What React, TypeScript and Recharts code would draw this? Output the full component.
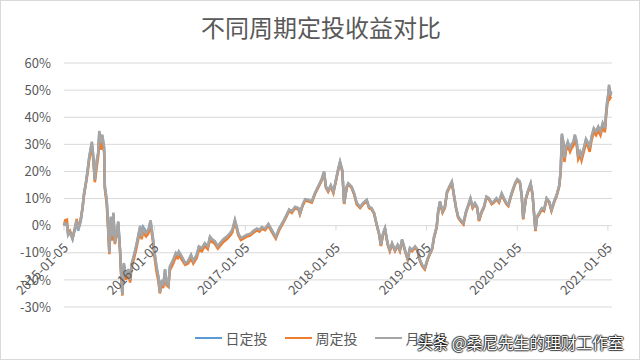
import React from "react";
import { LineChart, Line, XAxis, YAxis, CartesianGrid } from "recharts";

// Trading-day index since 2015-01-05
const tradingDay = [
  0,3,8,11,16,23,30,34,38,45,
  50,54,59,63,68,75,79,83,88,92,
  95,99,103,108,110,115,118,122,126,129,
  133,137,142,146,151,153,157,161,167,173,
  178,182,188,194,200,205,209,213,221,227,
  233,239,243,249,254,258,263,267,272,276,
  281,285,294,301,306,309,317,326,334,342,
  348,357,363,371,379,387,393,399,406,414,
  420,429,438,447,453,460,465,469,476,483,
  492,501,509,519,526,532,541,550,559,570,
  579,590,599,606,613,622,631,635,642,649,
  657,667,675,684,693,700,705,711,718,725,
  732,738,743,749,754,761,765,774,781,788,
  797,805,815,821,828,835,841,848,853,859,
  864,871,877,883,891,898,904,910,918,925,
  931,937,945,952,958,964,971,979,985,991,
  996,1003,1007,1012,1019,1025,1031,1039,1044,1049,
  1055,1061,1067,1075,1082,1088,1094,1100,1106,1112,
  1117,1124,1130,1137,1144,1151,1157,1164,1171,1178,
  1184,1191,1196,1202,1207,1214,1220,1227,1232,1236,
  1243,1249,1256,1261,1265,1269,1273,1279,1286,1292,
  1299,1306,1312,1319,1326,1333,1337,1340,1344,1347,
  1351,1356,1362,1366,1371,1375,1380,1384,1389,1393,
  1399,1405,1411,1415,1420,1426,1432,1438,1444,1450,
  1456,1459,1462,1466,1467,1470,1473,
];

// 日定投 (%)
const dailyReturn = [
  0,0.8,0.2,-3,-2,-4.8,-0.8,1.6,-1.8,1.6,
  6.7,11.7,15.7,19.6,25.2,30.6,25,16.6,23.5,26.6,
  34.5,30,33.2,28.6,14.1,9.2,1.6,-9.6,3,-4.3,
  4.4,-6,-2.8,1.2,-9.3,-15.3,-25.2,-14.1,-19,-16.3,
  -20.2,-14.3,-11.3,-7.9,-3.5,-0.5,-3,-0.5,-2.2,-1.8,
  1.6,-4.3,-9.3,-15.3,-19,-24.5,-20.3,-22.2,-16.3,-21.2,
  -22.2,-15.3,-12.8,-10.3,-11,-9.8,-11.6,-14,-13.3,-11,
  -13.3,-11,-7.9,-8.5,-6.7,-7.9,-4.3,-5.3,-6,-7.9,
  -6.7,-5.3,-4.3,-3,-1.8,1.9,-0.6,-3,-4.8,-4.3,
  -3.6,-3.3,-2.3,-1.3,-1.8,-0.8,-1.3,0.4,-1.8,-4.5,
  -1.3,1.3,3.7,5.7,5,6.7,6.2,4.4,7.4,9.5,
  9.3,8.7,11.7,14.2,16.7,19.7,14.2,12.7,14.7,12.3,
  16.7,20.7,23.4,20.3,8.1,14.2,15.4,14.2,11.7,8.1,
  6.7,8.1,9.3,6.7,6.2,4.4,0.7,-3,-7.3,-3,
  -1.1,-6.7,-9.2,-6.7,-9.2,-7.3,-9.2,-5.3,-9.2,-12.3,
  -8.5,-9.2,-7.9,-9.2,-12.8,-14.7,-15.9,-12.3,-10.3,-8.5,
  -4.3,-0.6,5,8.7,5,6.7,12.4,14.7,16,11.7,
  6.7,3.1,1.9,0.7,5,7.4,9.9,6.7,8.1,6.7,
  1.9,5,6.7,10.5,9.9,8.1,8.7,9.9,8.7,11.7,
  9.9,8.1,7.4,10.5,12.7,15.4,16.9,16,11.1,2.5,
  9.9,12.7,15.4,11.7,4.7,-1.8,3.1,4.4,6.2,5.6,
  9.9,8.7,5.6,8.7,11.1,14.7,20.3,33.5,30.6,24.5,
  28.6,30.6,28.3,29.6,30.6,33.2,30.6,25.5,27,25.2,
  28.3,31.6,30.1,28.3,32.6,35.6,34.4,36.2,34.4,37.5,
  35.6,41.2,45.5,49.2,51.6,48,49.2,
];

// 周定投 (%)
const weeklyReturn = [
  0,2,2.2,-2.5,-2,-4.5,-0.5,2.5,-1,2.5,
  6.5,11.5,15.5,19,24.5,29.5,24,16,21.5,25.5,
  33,28,31,27,13.5,8,0.5,-10.5,1.5,-5.5,
  3,-6.8,-3.5,0.5,-10,-16.5,-25.8,-15,-20,-17.5,
  -21,-15.5,-12.5,-9,-5,-2,-5,-2.5,-4,-3,
  0.5,-5.5,-11,-17,-20.5,-25,-21.5,-23,-17.5,-22,
  -22.5,-16.5,-14,-11.5,-12,-11,-12.5,-14.5,-14,-12,
  -14,-12,-9,-9.5,-7.5,-8.7,-5.2,-6,-6.7,-8.5,
  -7.5,-6,-5,-3.7,-2.5,1.5,-1.2,-3.5,-5.3,-4.8,
  -4,-3.7,-2.7,-1.7,-2.2,-1.2,-1.7,0,-2.2,-4.8,
  -1.7,1,3.4,5.4,4.7,6.4,6,4.2,7.2,9.2,
  9,8.5,11.5,14,16.5,19.5,14,12.5,14.5,12,
  16.5,20.5,23.2,20,8,14,15.2,14,11.5,7.8,
  6.5,7.9,9.1,6.5,6,4.2,0.5,-3.2,-7.5,-3.2,
  -1.3,-6.9,-9.4,-6.9,-9.4,-7.5,-9.4,-5.5,-9.4,-12.5,
  -8.7,-9.4,-8.1,-9.4,-13,-14.9,-16.1,-12.5,-10.5,-8.7,
  -4.5,-0.8,4.8,8.5,4.8,6.5,12.2,14.5,15.8,11.5,
  6.5,2.9,1.7,0.5,4.8,7.2,9.7,6.5,7.9,6.5,
  1.7,4.8,6.5,10.3,9.7,7.9,8.5,9.7,8.5,11.5,
  9.7,7.9,7.2,10.3,12.5,15.2,16.7,15.8,10.9,2.3,
  9.7,12.5,15.2,11.5,4.5,-2,2.9,4.2,6,5.4,
  9.7,8.5,5.4,8.5,10.9,14.5,20,32.5,29.5,23.5,
  27.5,29.5,27.2,28.5,29.5,32,29.5,24.5,26,24,
  27.2,30.5,29,27.2,31.5,34.5,33.3,35,33.3,36.4,
  34.5,40,44.3,48,50.5,47,47.7,
];

// 月定投 (%)
const monthlyReturn = [
  0,1,0.5,-3.5,-2.5,-5,-0.5,2,-1.5,2,
  7,12,16,20,25.6,31,25.5,17,24,27,
  35,30.5,33.6,29,14.5,9.6,2,-10,3.4,-4,
  4.8,-6.3,-2.5,1.6,-9,-15,-25.5,-13.8,-18.7,-16,
  -20,-14,-11,-7.6,-4,0,-4,-1,-2.7,-1.5,
  2,-4,-9,-15,-18.7,-24.7,-20,-22,-16,-21,
  -22,-15,-12.5,-10,-10.7,-9.5,-11.3,-13.8,-13,-10.7,
  -13,-10.7,-7.6,-8.2,-6.4,-7.6,-4,-5,-5.7,-7.6,
  -6.4,-5,-4,-2.7,-1.5,2.2,-0.3,-2.7,-4.5,-4,
  -3.3,-3,-2,-1,-1.5,-0.5,-1,0.7,-1.5,-4.2,
  -1,1.6,4,6,5.3,7,6.5,4.7,7.7,9.8,
  9.6,9,12,14.5,17,20,14.5,13,15,12.6,
  17,21,23.7,20.6,8.4,14.5,15.7,14.5,12,8.4,
  7,8.4,9.6,7,6.5,4.7,1,-2.7,-7,-2.7,
  -0.8,-6.4,-8.9,-6.4,-8.9,-7,-8.9,-5,-8.9,-12,
  -8.2,-8.9,-7.6,-8.9,-12.5,-14.4,-15.6,-12,-10,-8.2,
  -4,-0.3,5.3,9,5.3,7,12.7,15,16.3,12,
  7,3.4,2.2,1,5.3,7.7,10.2,7,8.4,7,
  2.2,5.3,7,10.8,10.2,8.4,9,10.2,9,12,
  10.2,8.4,7.7,10.8,13,15.7,17.2,16.3,11.4,2.8,
  10.2,13,15.7,12,5,-1.5,3.4,4.7,6.5,5.9,
  10.2,9,5.9,9,11.4,15,20.6,34,31,25,
  29,31,28.7,30,31,33.6,31,26,27.4,25.6,
  28.7,32,30.5,28.7,33,36,34.8,36.6,34.8,37.9,
  36,41.6,45.9,49.6,52,48.3,49.6,
];

const tickDays = [0, 244, 488, 732, 976, 1220, 1464];
const tickLabels = ["2015-01-05", "2016-01-05", "2017-01-05", "2018-01-05", "2019-01-05", "2020-01-05", "2021-01-05"];
const yTicks = [-30, -20, -10, 0, 10, 20, 30, 40, 50, 60];

const seriesNames = ["日定投", "周定投", "月定投"];
const seriesKeys = ["daily", "weekly", "monthly"];
const seriesColors = ["#5B9BD5", "#ED7D31", "#A5A5A5"];

const n = Math.min(tradingDay.length, dailyReturn.length, weeklyReturn.length, monthlyReturn.length);
const rows = tradingDay.slice(0, n).map((d, i) => ({
  day: d,
  daily: dailyReturn[i],
  weekly: weeklyReturn[i],
  monthly: monthlyReturn[i],
}));

const W = 640;
const H = 360;
const M_TOP = 63;
const M_RIGHT = 28;
const X_AXIS_H = 30;
const M_BOTTOM = 23;
const Y_MIN = -30;
const Y_MAX = 60;
const PLOT_H = H - M_TOP - M_BOTTOM - X_AXIS_H;
const ZERO_Y = M_TOP + (PLOT_H * (Y_MAX - 0)) / (Y_MAX - Y_MIN);
const FONT = '"Noto Sans CJK SC", "Noto Sans", sans-serif';
const TEXT = "#595959";

const XTick = (props: any) => {
  const { x, index } = props;
  const label = tickLabels[index] ?? "";
  const ax = x + 5;
  const ay = ZERO_Y + 23;
  return (
    <g>
      <line x1={x} x2={x} y1={ZERO_Y} y2={ZERO_Y + 5} stroke="#d9d9d9" strokeWidth={1} />
      <text
        x={ax}
        y={ay}
        textAnchor="end"
        fontSize={13}
        fill={TEXT}
        fontFamily={FONT}
        transform={`rotate(-45 ${ax} ${ay})`}
      >
        {label}
      </text>
    </g>
  );
};

export default function App() {
  return (
    <div
      style={{
        position: "absolute",
        left: 0,
        top: 0,
        width: W,
        height: H,
        background: "#fff",
        boxSizing: "border-box",
        border: "1px solid #d9d9d9",
        fontFamily: FONT,
      }}
    >
      <div
        style={{
          position: "absolute",
          left: 0,
          top: 10,
          width: W,
          textAlign: "center",
          fontSize: 24,
          color: TEXT,
          lineHeight: "32px",
        }}
      >
        不同周期定投收益对比
      </div>
      <div style={{ position: "absolute", left: -1, top: -1 }}>
        <LineChart width={W} height={H} data={rows} margin={{ top: M_TOP, right: M_RIGHT, bottom: M_BOTTOM, left: 0 }}>
          <CartesianGrid vertical={false} stroke="#d9d9d9" strokeWidth={1} />
          <XAxis
            dataKey="day"
            type="number"
            domain={[0, 1475]}
            ticks={tickDays}
            interval={0}
            axisLine={false}
            tickLine={false}
            height={X_AXIS_H}
            tick={<XTick />}
          />
          <YAxis
            type="number"
            domain={[Y_MIN, Y_MAX]}
            ticks={yTicks}
            interval={0}
            width={64}
            axisLine={false}
            tickLine={false}
            tickSize={0}
            tickMargin={13}
            tickFormatter={(v: number) => `${v}%`}
            tick={{ fontSize: 13, fill: TEXT, fontFamily: FONT }}
          />
          {seriesKeys.map((k, i) => (
            <Line
              key={k}
              type="linear"
              dataKey={k}
              name={seriesNames[i]}
              stroke={seriesColors[i]}
              strokeWidth={2.5}
              dot={false}
              isAnimationActive={false}
            />
          ))}
        </LineChart>
      </div>
      <div
        style={{
          position: "absolute",
          left: 0,
          top: 327,
          width: W,
          display: "flex",
          justifyContent: "center",
          alignItems: "center",
          fontSize: 14,
          color: TEXT,
          lineHeight: "20px",
        }}
      >
        {seriesNames.map((nm, i) => (
          <div key={nm} style={{ display: "flex", alignItems: "center", marginRight: i < 2 ? 17 : 0 }}>
            <div style={{ width: 27, height: 2, background: seriesColors[i], marginRight: 4 }} />
            <span>{nm}</span>
          </div>
        ))}
      </div>
      <div
        style={{
          position: "absolute",
          left: 416,
          top: 330,
          fontSize: 16,
          letterSpacing: -0.3,
          color: "#fff",
          lineHeight: "22px",
          whiteSpace: "nowrap",
          textShadow:
            "1px 0 1px rgba(0,0,0,0.75), -1px 0 1px rgba(0,0,0,0.75), 0 1px 1px rgba(0,0,0,0.75), 0 -1px 1px rgba(0,0,0,0.75)",
        }}
      >
        头条 @桑尼先生的理财工作室
      </div>
    </div>
  );
}
